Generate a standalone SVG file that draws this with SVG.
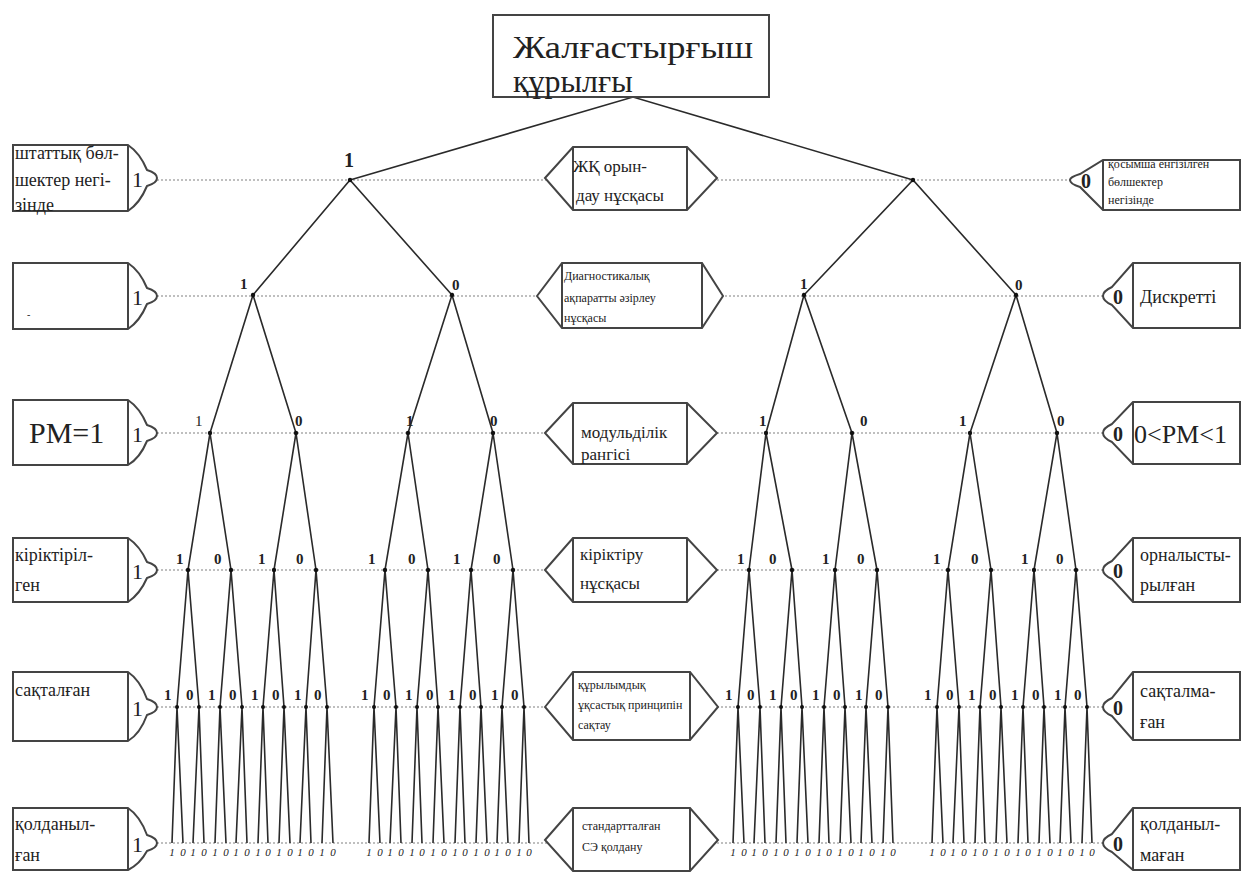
<svg xmlns="http://www.w3.org/2000/svg" width="1246" height="872" viewBox="0 0 1246 872">
<defs>
<style>
text{font-family:"Liberation Serif","DejaVu Serif",serif;fill:#222}
.box{fill:#fff;stroke:#444;stroke-width:2}
.dot{stroke:#aaa;stroke-width:1.5;stroke-dasharray:2 2;fill:none}
.e{fill:none;stroke:#2a2a2a;stroke-width:1.6}
.n{fill:#111}
.lb{font-weight:bold;font-size:15px}
.lf{font-size:11px;font-style:italic;text-anchor:middle}
.bt{font-size:18px}
.sm{font-size:12px}
.pin{font-size:22px}
</style>
</defs>
<rect width="1246" height="872" fill="#fff"/>
<g id="guides">
<line class="dot" x1="157" y1="180" x2="1070" y2="180"/>
<line class="dot" x1="157" y1="296" x2="1103" y2="296"/>
<line class="dot" x1="157" y1="433" x2="1103" y2="433"/>
<line class="dot" x1="157" y1="570" x2="1103" y2="570"/>
<line class="dot" x1="157" y1="707" x2="1103" y2="707"/>
<line class="dot" x1="157" y1="843" x2="1103" y2="843"/>
</g>
<g id="connectors">
<path class="e" d="M350,180L633,97L913,180"/>
<path class="e" d="M253,295L350,180L452,295"/>
<path class="e" d="M804,295L913,180L1016,295"/>
<path class="e" d="M210,433L253,295L296,433"/>
<path class="e" d="M408,433L452,295L493,433"/>
<path class="e" d="M766,433L804,295L852,433"/>
<path class="e" d="M970,433L1016,295L1057,433"/>
<path class="e" d="M188,570L210,433L231,570"/>
<path class="e" d="M274,570L296,433L316,570"/>
<path class="e" d="M385,570L408,433L428,570"/>
<path class="e" d="M471,570L493,433L513,570"/>
<path class="e" d="M749,570L766,433L792,570"/>
<path class="e" d="M835,570L852,433L877,570"/>
<path class="e" d="M948,570L970,433L991,570"/>
<path class="e" d="M1034,570L1057,433L1076,570"/>
<path class="e" d="M177,707L188,570L199,707M220,707L231,570L242,707M263,707L274,570L284,707M306,707L316,570L327,707"/>
<path class="e" d="M374,707L385,570L396,707M417,707L428,570L438,707M460,707L471,570L481,707M502,707L513,570L524,707"/>
<path class="e" d="M738,707L749,570L760,707M781,707L792,570L802,707M824,707L835,570L845,707M866,707L877,570L888,707"/>
<path class="e" d="M937,707L948,570L959,707M980,707L991,570L1001,707M1023,707L1034,570L1044,707M1065,707L1076,570L1087,707"/>
<path class="e" d="M172,843L177,707L183,843M193,843L199,707L204,843M215,843L220,707L226,843M236,843L242,707L247,843M258,843L263,707L268,843M279,843L284,707L290,843M300,843L306,707L311,843M322,843L327,707L333,843"/>
<path class="e" d="M369,843L374,707L380,843M390,843L396,707L401,843M412,843L417,707L422,843M433,843L438,707L444,843M455,843L460,707L465,843M476,843L481,707L487,843M497,843L502,707L508,843M519,843L524,707L529,843"/>
<path class="e" d="M733,843L738,707L744,843M754,843L760,707L765,843M776,843L781,707L786,843M797,843L802,707L808,843M819,843L824,707L829,843M840,843L845,707L851,843M861,843L866,707L872,843M883,843L888,707L893,843"/>
<path class="e" d="M932,843L937,707L943,843M953,843L959,707L964,843M975,843L980,707L985,843M996,843L1001,707L1007,843M1018,843L1023,707L1028,843M1039,843L1044,707L1050,843M1060,843L1065,707L1071,843M1082,843L1087,707L1092,843"/>
</g>
<g id="level1">
<circle class="n" cx="350" cy="180" r="2.2"/><circle class="n" cx="913" cy="180" r="2.2"/>
<text x="344" y="167" style="font-size:20px;font-weight:bold">1</text>
</g>
<g id="level2">
<circle class="n" cx="253" cy="295" r="2.2"/><circle class="n" cx="452" cy="295" r="2.2"/><circle class="n" cx="804" cy="295" r="2.2"/><circle class="n" cx="1016" cy="295" r="2.2"/>
<text class="lb" x="240" y="289">1</text><text class="lb" x="452" y="290">0</text><text class="lb" x="800" y="289">1</text><text class="lb" x="1015" y="290">0</text>
</g>
<g id="level3">
<circle class="n" cx="210" cy="433" r="2.2"/><circle class="n" cx="296" cy="433" r="2.2"/><circle class="n" cx="408" cy="433" r="2.2"/><circle class="n" cx="493" cy="433" r="2.2"/><circle class="n" cx="766" cy="433" r="2.2"/><circle class="n" cx="852" cy="433" r="2.2"/><circle class="n" cx="970" cy="433" r="2.2"/><circle class="n" cx="1057" cy="433" r="2.2"/>
<text class="lb" x="195" y="426" style="font-weight:normal">1</text><text class="lb" x="295" y="426">0</text><text class="lb" x="406" y="426">1</text><text class="lb" x="490" y="426">0</text><text class="lb" x="759" y="426">1</text><text class="lb" x="860" y="426">0</text><text class="lb" x="959" y="426">1</text><text class="lb" x="1057" y="426">0</text>
</g>
<g id="level4">
<circle class="n" cx="188" cy="570" r="2.2"/><circle class="n" cx="231" cy="570" r="2.2"/><circle class="n" cx="274" cy="570" r="2.2"/><circle class="n" cx="316" cy="570" r="2.2"/>
<circle class="n" cx="385" cy="570" r="2.2"/><circle class="n" cx="428" cy="570" r="2.2"/><circle class="n" cx="471" cy="570" r="2.2"/><circle class="n" cx="513" cy="570" r="2.2"/>
<circle class="n" cx="749" cy="570" r="2.2"/><circle class="n" cx="792" cy="570" r="2.2"/><circle class="n" cx="835" cy="570" r="2.2"/><circle class="n" cx="877" cy="570" r="2.2"/>
<circle class="n" cx="948" cy="570" r="2.2"/><circle class="n" cx="991" cy="570" r="2.2"/><circle class="n" cx="1034" cy="570" r="2.2"/><circle class="n" cx="1076" cy="570" r="2.2"/>
<text class="lb" x="176 214 258 296" y="564">1010</text>
<text class="lb" x="368 408 453 493" y="564">1010</text>
<text class="lb" x="737 769 822 857" y="564">1010</text>
<text class="lb" x="933 971 1021 1056" y="564">1010</text>
</g>
<g id="level5">
<circle class="n" cx="177" cy="707" r="2"/><circle class="n" cx="199" cy="707" r="2"/><circle class="n" cx="220" cy="707" r="2"/><circle class="n" cx="242" cy="707" r="2"/><circle class="n" cx="263" cy="707" r="2"/><circle class="n" cx="284" cy="707" r="2"/><circle class="n" cx="306" cy="707" r="2"/><circle class="n" cx="327" cy="707" r="2"/>
<circle class="n" cx="374" cy="707" r="2"/><circle class="n" cx="396" cy="707" r="2"/><circle class="n" cx="417" cy="707" r="2"/><circle class="n" cx="438" cy="707" r="2"/><circle class="n" cx="460" cy="707" r="2"/><circle class="n" cx="481" cy="707" r="2"/><circle class="n" cx="502" cy="707" r="2"/><circle class="n" cx="524" cy="707" r="2"/>
<circle class="n" cx="738" cy="707" r="2"/><circle class="n" cx="760" cy="707" r="2"/><circle class="n" cx="781" cy="707" r="2"/><circle class="n" cx="802" cy="707" r="2"/><circle class="n" cx="824" cy="707" r="2"/><circle class="n" cx="845" cy="707" r="2"/><circle class="n" cx="866" cy="707" r="2"/><circle class="n" cx="888" cy="707" r="2"/>
<circle class="n" cx="937" cy="707" r="2"/><circle class="n" cx="959" cy="707" r="2"/><circle class="n" cx="980" cy="707" r="2"/><circle class="n" cx="1001" cy="707" r="2"/><circle class="n" cx="1023" cy="707" r="2"/><circle class="n" cx="1044" cy="707" r="2"/><circle class="n" cx="1065" cy="707" r="2"/><circle class="n" cx="1087" cy="707" r="2"/>
<text class="lb" x="164 186 208 229 251 272 294 314" y="700">10101010</text>
<text class="lb" x="361 383 405 426 448 469 491 511" y="700">10101010</text>
<text class="lb" x="725 747 769 790 812 833 855 875" y="700">10101010</text>
<text class="lb" x="924 946 968 989 1011 1032 1054 1074" y="700">10101010</text>
</g>
<g id="level6">
<text class="lf" x="172 183 193 204 215 226 236 247 258 268 279 290 300 311 322 333" y="856">1010101010101010</text>
<text class="lf" x="369 380 390 401 412 422 433 444 455 465 476 487 497 508 519 529" y="856">1010101010101010</text>
<text class="lf" x="733 744 754 765 776 786 797 808 819 829 840 851 861 872 883 893" y="856">1010101010101010</text>
<text class="lf" x="932 943 953 964 975 985 996 1007 1018 1028 1039 1050 1060 1071 1082 1092" y="856">1010101010101010</text>
</g>
<g id="root">
<rect class="box" x="493" y="15" width="276" height="82"/>
<text x="513" y="58" style="font-size:32px" textLength="240" lengthAdjust="spacingAndGlyphs">Жалғастырғыш</text>
<text x="513" y="92" style="font-size:32px">құрылғы</text>
</g>
<g id="left1">
<path class="box" d="M13,145H128Q140,153 147,170Q157,173 157,178Q157,183 147,186Q140,203 128,211H13Z"/>
<line x1="128" y1="145" x2="128" y2="211" stroke="#444" stroke-width="2"/>
<text class="bt" x="15" y="159">штаттық бөл-</text>
<text class="bt" x="15" y="186">шектер негі-</text>
<text class="bt" x="15" y="211">зінде</text>
<text class="pin" x="132" y="187">1</text>
</g>
<g id="left2">
<path class="box" d="M13,263H128Q140,271 147,288Q157,291 157,296Q157,301 147,304Q140,321 128,329H13Z"/>
<line x1="128" y1="263" x2="128" y2="329" stroke="#444" stroke-width="2"/>
<text x="27" y="318" style="font-size:10px">-</text>
<text class="pin" x="132" y="305">1</text>
</g>
<g id="left3">
<path class="box" d="M13,400H128Q140,408 147,425Q157,428 157,433Q157,438 147,441Q140,458 128,465H13Z"/>
<line x1="128" y1="400" x2="128" y2="465" stroke="#444" stroke-width="2"/>
<text x="29" y="443" style="font-size:30px">PM=1</text>
<text class="pin" x="132" y="442">1</text>
</g>
<g id="left4">
<path class="box" d="M13,538H128Q140,546 147,562Q157,565 157,570Q157,575 147,578Q140,594 128,602H13Z"/>
<line x1="128" y1="538" x2="128" y2="602" stroke="#444" stroke-width="2"/>
<text class="bt" x="15" y="561">кіріктіріл-</text>
<text class="bt" x="15" y="591">ген</text>
<text class="pin" x="132" y="579">1</text>
</g>
<g id="left5">
<path class="box" d="M13,672H128Q140,680 147,699Q157,702 157,707Q157,712 147,715Q140,734 128,741H13Z"/>
<line x1="128" y1="672" x2="128" y2="741" stroke="#444" stroke-width="2"/>
<text class="bt" x="15" y="696">сақталған</text>
<text class="pin" x="132" y="716">1</text>
</g>
<g id="left6">
<path class="box" d="M13,808H128Q140,816 147,835Q157,838 157,843Q157,848 147,851Q140,864 128,870H13Z"/>
<line x1="128" y1="808" x2="128" y2="870" stroke="#444" stroke-width="2"/>
<text class="bt" x="15" y="830">қолданыл-</text>
<text class="bt" x="15" y="861">ған</text>
<text class="pin" x="132" y="852">1</text>
</g>
<g id="mid1">
<path class="box" d="M545,178L573,147H687L717,178L687,210H573Z"/>
<path d="M573,147V210M687,147V210" stroke="#444" stroke-width="2"/>
<text x="573" y="172" style="font-size:17px">ЖҚ орын-</text>
<text x="576" y="201" style="font-size:17px">дау нұсқасы</text>
</g>
<g id="mid2">
<path class="box" d="M537,296L562,263H702L723,296L702,328H562Z"/>
<path d="M562,263V328M702,263V328" stroke="#444" stroke-width="2"/>
<text class="sm" x="564" y="280">Диагностикалық</text>
<text class="sm" x="564" y="302">ақпаратты әзірлеу</text>
<text class="sm" x="564" y="322">нұсқасы</text>
</g>
<g id="mid3">
<path class="box" d="M545,433L573,403H687L717,433L687,464H573Z"/>
<path d="M573,403V464M687,403V464" stroke="#444" stroke-width="2"/>
<text x="581" y="438" style="font-size:17px">модульділік</text>
<text x="581" y="460" style="font-size:17px">рангісі</text>
</g>
<g id="mid4">
<path class="box" d="M545,570L573,538H687L717,570L687,602H573Z"/>
<path d="M573,538V602M687,538V602" stroke="#444" stroke-width="2"/>
<text x="580" y="560" style="font-size:17px">кіріктіру</text>
<text x="580" y="589" style="font-size:17px">нұсқасы</text>
</g>
<g id="mid5">
<path class="box" d="M545,707L573,672H690L718,707L690,740H573Z"/>
<path d="M573,672V740M690,672V740" stroke="#444" stroke-width="2"/>
<text class="sm" x="578" y="689">құрылымдық</text>
<text class="sm" x="578" y="709">ұқсастық принципін</text>
<text class="sm" x="578" y="729">сақтау</text>
</g>
<g id="mid6">
<path class="box" d="M545,840L573,808H690L718,840L690,871H573Z"/>
<path d="M573,808V871M690,808V871" stroke="#444" stroke-width="2"/>
<text class="sm" x="582" y="830">стандартталған</text>
<text class="sm" x="582" y="851">СЭ қолдану</text>
</g>
<g id="right1">
<path class="box" d="M1240,160H1103L1080,174Q1070,177 1070,180Q1070,184 1080,187L1103,210H1240Z"/>
<line x1="1103" y1="160" x2="1103" y2="210" stroke="#444" stroke-width="2"/>
<text class="sm" x="1108" y="168">қосымша енгізілген</text>
<text class="sm" x="1108" y="186">бөлшектер</text>
<text class="sm" x="1108" y="204">негізінде</text>
<text class="pin" x="1081" y="188" style="font-weight:bold;font-size:20px">0</text>
</g>
<g id="right2">
<path class="box" d="M1240,263H1133L1112,287Q1103,291 1103,296Q1103,301 1112,305L1133,328H1240Z"/>
<line x1="1133" y1="263" x2="1133" y2="328" stroke="#444" stroke-width="2"/>
<text x="1140" y="303" style="font-size:18px">Дискретті</text>
<text x="1113" y="304" style="font-weight:bold;font-size:20px">0</text>
</g>
<g id="right3">
<path class="box" d="M1240,402H1133L1112,424Q1103,428 1103,433Q1103,438 1112,442L1133,464H1240Z"/>
<line x1="1133" y1="402" x2="1133" y2="464" stroke="#444" stroke-width="2"/>
<text x="1134" y="443" style="font-size:26px">0&lt;PM&lt;1</text>
<text x="1113" y="441" style="font-weight:bold;font-size:20px">0</text>
</g>
<g id="right4">
<path class="box" d="M1240,538H1133L1112,561Q1103,565 1103,570Q1103,575 1112,579L1133,602H1240Z"/>
<line x1="1133" y1="538" x2="1133" y2="602" stroke="#444" stroke-width="2"/>
<text class="bt" x="1140" y="561">орналысты-</text>
<text class="bt" x="1140" y="591">рылған</text>
<text x="1113" y="578" style="font-weight:bold;font-size:20px">0</text>
</g>
<g id="right5">
<path class="box" d="M1240,672H1133L1112,698Q1103,702 1103,707Q1103,712 1112,716L1133,740H1240Z"/>
<line x1="1133" y1="672" x2="1133" y2="740" stroke="#444" stroke-width="2"/>
<text class="bt" x="1140" y="697">сақталма-</text>
<text class="bt" x="1140" y="728">ған</text>
<text x="1113" y="715" style="font-weight:bold;font-size:20px">0</text>
</g>
<g id="right6">
<path class="box" d="M1240,808H1133L1112,834Q1103,838 1103,843Q1103,848 1112,852L1133,870H1240Z"/>
<line x1="1133" y1="808" x2="1133" y2="870" stroke="#444" stroke-width="2"/>
<text class="bt" x="1140" y="830">қолданыл-</text>
<text class="bt" x="1140" y="861">маған</text>
<text x="1113" y="851" style="font-weight:bold;font-size:20px">0</text>
</g>
</svg>
